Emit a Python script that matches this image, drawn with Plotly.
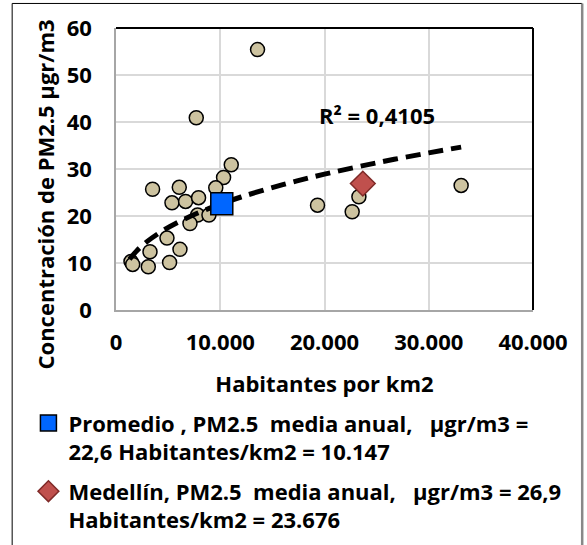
import plotly.graph_objects as go

# ---- data ----
city_density = [13577, 7700, 11055, 10318, 9570, 3510, 6070, 5370, 6675, 7920,
                7825, 8915, 7095, 4890, 6136, 3260, 5140, 3097, 1438, 1600,
                19330, 22655, 23300, 33107]
city_pm25 = [55.4, 40.9, 30.9, 28.2, 26.0, 25.7, 26.1, 22.8, 23.1, 23.9,
             20.2, 20.2, 18.4, 15.3, 12.9, 12.4, 10.1, 9.2, 10.3, 9.7,
             22.3, 20.9, 24.1, 26.5]
avg_density = [10147]
avg_pm25 = [22.6]
med_density = [23676]
med_pm25 = [26.9]
# power trendline y = a * x^b, coefficients
trend_a = 0.8175
trend_b = 0.36
trend_x = [1300, 2000, 3000, 4500, 6500, 9000, 12000, 16000, 20000, 25000, 30000, 33107]
r2_label = "R² = 0,4105"
x_ticks = [0, 10000, 20000, 30000, 40000]
x_ticklabels = ["0", "10.000", "20.000", "30.000", "40.000"]
y_ticks = [0, 10, 20, 30, 40, 50, 60]

nb = "\u00a0"
avg_name = ("Promedio , PM2.5" + nb * 2 + "media anual," + nb * 3 + "µgr/m3 =<br>"
            "22,6 Habitantes/km2 = 10.147")
med_name = ("Medellín, PM2.5" + nb * 2 + "media anual," + nb * 3 + "µgr/m3 = 26,9<br>"
            "Habitantes/km2 = 23.676")

trend_y = [trend_a * v ** trend_b for v in trend_x]

FONT = "Open Sans"
fs = 22
F = dict(family=FONT, size=fs, color="#000", weight="bold")

fig = go.Figure()
fig.add_trace(go.Scatter(
    x=city_density, y=city_pm25, mode="markers", showlegend=False,
    marker=dict(size=14, color="#CDC3A0", line=dict(color="#000000", width=1.5))))
fig.add_trace(go.Scatter(
    x=trend_x, y=trend_y, mode="lines", showlegend=False, line_shape="spline",
    line=dict(color="#000000", width=5, dash="15px,8px")))
fig.add_trace(go.Scatter(
    x=avg_density, y=avg_pm25, mode="markers", name=avg_name, legendgroup="a",
    marker=dict(symbol="square", size=22, color="#0066FF",
                line=dict(color="#000000", width=1.5))))
fig.add_trace(go.Scatter(
    x=med_density, y=med_pm25, mode="markers", name=med_name, legendgroup="b",
    marker=dict(symbol="diamond", size=19, color="#C0504D",
                line=dict(color="#7F2A28", width=1.5))))

fig.add_annotation(x=0.626, y=0.691, xref="paper", yref="paper", text=r2_label,
                   showarrow=False, font=F, xanchor="center", yanchor="middle")
fig.add_annotation(x=-0.17, y=0.41, xref="paper", yref="paper",
                   text="Concentración de PM2.5 µgr/m3", textangle=-90,
                   showarrow=False, font=F, xanchor="center", yanchor="middle")

# outer frame and plot frame (top/right)
shapes = [
    dict(type="line", xref="paper", yref="paper", x0=-0.249, x1=-0.249, y0=1.087, y1=-1.0,
         line=dict(color="#000", width=1)),
    dict(type="line", xref="paper", yref="paper", x0=-0.249, x1=1.118, y0=1.087, y1=1.087,
         line=dict(color="#000", width=1)),
    dict(type="line", xref="paper", yref="paper", x0=1.118, x1=1.118, y0=1.087, y1=-1.0,
         line=dict(color="#888", width=2.5)),
    dict(type="line", xref="paper", yref="paper", x0=0, x1=1, y0=1, y1=1,
         line=dict(color="#000", width=2)),
    dict(type="line", xref="paper", yref="paper", x0=1, x1=1, y0=0, y1=1,
         line=dict(color="#000", width=2)),
]

fig.update_layout(
    width=587, height=545,
    margin=dict(l=116, r=54, t=28, b=235, autoexpand=False),
    paper_bgcolor="white", plot_bgcolor="white",
    font=F,
    shapes=shapes,
    showlegend=True,
    legend=dict(x=-0.21, y=-0.327, xanchor="left", yanchor="top", valign="top",
                font=F, tracegroupgap=8, bgcolor="rgba(0,0,0,0)", itemwidth=30),
    xaxis=dict(range=[0, 40000], tickvals=x_ticks, ticktext=x_ticklabels,
               showgrid=True, gridcolor="#D9D9D9", gridwidth=1.5,
               showline=True, linecolor="#A6A6A6", linewidth=1.5,
               zeroline=False, ticks="", ticklabelstandoff=12,
               tickfont=F,
               title=dict(text="Habitantes por km2", standoff=21, font=F)),
    yaxis=dict(range=[0, 60], tickvals=y_ticks,
               showgrid=True, gridcolor="#D9D9D9", gridwidth=1.5,
               showline=True, linecolor="#A6A6A6", linewidth=1.5,
               zeroline=False, ticks="", ticklabelstandoff=18,
               tickfont=F),
)
fig.write_html("out.html", config={"displayModeBar": False},
               post_script="document.body.style.margin='0';document.body.style.overflow='hidden';")
